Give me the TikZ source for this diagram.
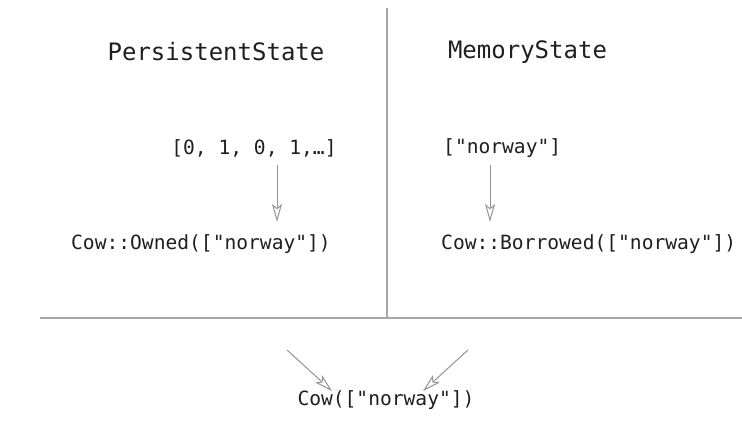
\documentclass[tikz,border=0pt]{standalone}
\usepackage{fontspec}
\setmonofont{DejaVu Sans Mono}
\usetikzlibrary{arrows.meta}
\begin{document}
\begin{tikzpicture}[x=1pt,y=1pt,
  title/.style={font=\ttfamily\fontsize{24}{28}\selectfont, text=black!88, inner sep=0pt},
  code/.style={font=\ttfamily\fontsize{19.6}{24}\selectfont, text=black!88, inner sep=0pt},
  divider/.style={draw=black!35, line width=1.3pt},
  flow/.style={draw=black!42, line width=1pt,
    -{Stealth[open, length=18pt, width=10pt, inset=4pt]}}]
\useasboundingbox (0,0) rectangle (742,431);

% panel dividers
\coordinate (vtop) at (387,423);
\coordinate (hleft) at (40,113);
\coordinate (hright) at (742,113);
\draw[divider] (vtop) -- (vtop |- hleft);
\draw[divider] (hleft) -- (hright);

% panel headings
\node[title] (hpersist) at (216,379) {PersistentState};
\node[title] (hmemory) at (527.5,379) {MemoryState};

% persistent side
\node[code] (bits) at (254,283) {[0, 1, 0, 1,…]};
\node[code] (owned) at (201,187) {Cow::Owned(["norway"])};
\coordinate (p1) at (277,266);
\coordinate (p2) at (277,209);
\draw[flow] (p1) -- (p2);

% memory side
\node[code, anchor=west] (vec) at (443,283) {["norway"]};
\node[code, anchor=west] (borrowed) at (441,187) {Cow::Borrowed(["norway"])};
\coordinate (m1) at (490,266);
\coordinate (m2) at (490,209);
\draw[flow] (m1) -- (m2);

% merged result
\node[code] (cow) at (386,31) {Cow(["norway"])};
\coordinate (l1) at (287,81);
\coordinate (l2) at (332,40);
\coordinate (r1) at (468,81);
\coordinate (r2) at (423,40);
\draw[flow] (l1) -- (l2);
\draw[flow] (r1) -- (r2);
\end{tikzpicture}
\end{document}
